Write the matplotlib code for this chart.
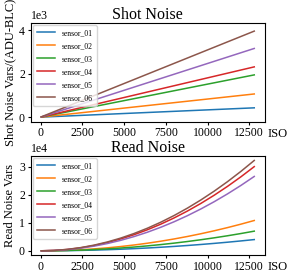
import matplotlib
matplotlib.use('Agg')
import matplotlib.pyplot as plt

plt.rcParams['font.family'] = ['Liberation Serif', 'DejaVu Serif']

sensors = ['sensor_01', 'sensor_02', 'sensor_03', 'sensor_04', 'sensor_05', 'sensor_06']

# Shot noise: roughly linear in ISO
iso_shot = [50, 12800]
shot_noise = {
    'sensor_01': [2, 430],
    'sensor_02': [4, 1070],
    'sensor_03': [8, 1950],
    'sensor_04': [9, 2320],
    'sensor_05': [12, 3170],
    'sensor_06': [16, 3970],
}

iso_read = [50, 800, 1600, 2400, 3200, 4000, 4800, 5600, 6400,
            7200, 8000, 8800, 9600, 10400, 11200, 12000, 12800]
read_noise = {
    'sensor_01': [0, 16, 62, 141, 250, 391, 562, 766, 1000,
                  1266, 1562, 1891, 2250, 2641, 3062, 3516, 4000],
    'sensor_02': [0, 42, 169, 380, 675, 1055, 1519, 2067, 2700,
                  3417, 4219, 5105, 6075, 7130, 8269, 9492, 10800],
    'sensor_03': [0, 27, 109, 246, 438, 684, 984, 1340, 1750,
                  2215, 2734, 3309, 3938, 4621, 5359, 6152, 7000],
    'sensor_04': [0, 117, 469, 1055, 1875, 2930, 4219, 5742, 7500,
                  9492, 11719, 14180, 16875, 19805, 22969, 26367, 30000],
    'sensor_05': [0, 104, 414, 932, 1656, 2588, 3727, 5072, 6625,
                  8385, 10352, 12526, 14906, 17495, 20290, 23292, 26500],
    'sensor_06': [0, 126, 503, 1132, 2012, 3145, 4528, 6163, 8050,
                  10188, 12578, 15219, 18112, 21256, 24652, 28300, 32200],
}

fig = plt.figure(figsize=(2.91, 2.79), dpi=100)
ax1 = fig.add_axes([0.105, 0.563, 0.806, 0.355])
ax2 = fig.add_axes([0.105, 0.086, 0.806, 0.355])

for s in sensors:
    ax1.plot(iso_shot, shot_noise[s], label=s, linewidth=1.1)
    ax2.plot(iso_read, read_noise[s], label=s, linewidth=1.1)

for ax, title, ylabel in [(ax1, 'Shot Noise', 'Shot Noise Vars/(ADU-BLC)'),
                          (ax2, 'Read Noise', 'Read Noise Vars')]:
    ax.set_title(title, fontsize=11.5, pad=2)
    ax.set_ylabel(ylabel, fontsize=9, labelpad=2)
    ax.set_xticks([0, 2500, 5000, 7500, 10000, 12500])
    ax.tick_params(labelsize=8.5, length=2.5, pad=1.5)
    ax.ticklabel_format(axis='y', style='sci', scilimits=(0, 0))
    ax.yaxis.get_offset_text().set_fontsize(8.5)
    ax.set_xlim(-600, 13450)
    ax.text(1.01, -0.06, 'ISO', transform=ax.transAxes, fontsize=9,
            ha='left', va='top')
    ax.legend(loc='upper left', fontsize=5.5, handlelength=2.4, labelspacing=0.65,
              borderpad=0.5, handletextpad=0.9, borderaxespad=0.3, framealpha=0.8)

ax1.set_yticks([0, 2000, 4000])
ax1.set_ylim(-220, 4350)
ax2.set_yticks([0, 10000, 20000, 30000])
ax2.set_ylim(-1500, 33800)

plt.savefig('out.png', dpi=100)
plt.close()
